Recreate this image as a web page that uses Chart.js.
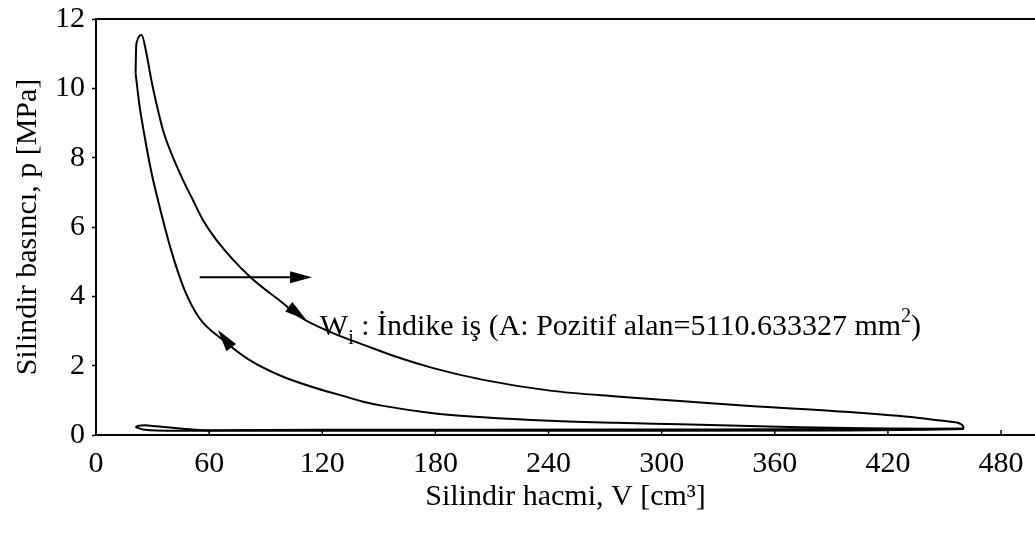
<!DOCTYPE html>
<html lang="tr">
  <head>
    <meta charset="UTF-8" />
    <script src="https://cdn.jsdelivr.net/npm/chart.js@4"></script>
    <title>p-V diyagramı</title>
    <style>
      html, body { margin: 0; padding: 0; background: #fff; overflow: hidden; }
      #grafik_pv { display: block; }
    </style>
  </head>
  <body>
    <canvas id="grafik_pv" width="1035" height="542"></canvas>
    <script>
      // eksenler
      var xTicks = [0, 60, 120, 180, 240, 300, 360, 420, 480];
      var yTicks = [0, 2, 4, 6, 8, 10, 12];

      // sıkıştırma (AÖN -> ÜÖN)
      var vSikistirma = [460.3, 417.8, 373.3, 346.8, 309.8, 276.2, 240.8, 205.4, 178.8, 152.3, 141.7, 134.6, 116.9, 99.2, 81.5, 67.3, 55.0, 47.0, 39.8, 33.2, 29.3, 25.8, 22.9, 21.0];
      var pSikistirma = [0.17, 0.19, 0.22, 0.26, 0.31, 0.35, 0.41, 0.51, 0.63, 0.84, 0.96, 1.07, 1.35, 1.68, 2.16, 2.74, 3.36, 4.18, 5.34, 6.70, 7.60, 8.61, 9.57, 10.44];

      // yanma + genişleme (ÜÖN -> AÖN)
      var vGenisleme = [21.0, 21.3, 21.7, 22.7, 24.2, 26.7, 29.3, 32.0, 35.5, 39.9, 46.1, 51.4, 56.7, 63.8, 81.5, 99.2, 108.0, 125.7, 143.5, 161.2, 178.8, 205.4, 240.8, 276.2, 309.8, 346.8, 399.9, 435.5, 453.1, 459.4, 460.3];
      var pGenisleme = [10.44, 11.2, 11.35, 11.49, 11.54, 11.02, 10.25, 9.57, 8.80, 8.13, 7.36, 6.78, 6.20, 5.63, 4.57, 3.80, 3.41, 2.94, 2.57, 2.22, 1.93, 1.59, 1.28, 1.11, 0.98, 0.84, 0.66, 0.50, 0.38, 0.29, 0.19];

      // egzoz (AÖN -> ÜÖN)
      var vEgzoz = [460.3, 400, 300, 200, 120, 57.6, 41.7, 32.0, 25.8, 22.5, 21.0];
      var pEgzoz = [0.19, 0.17, 0.16, 0.15, 0.15, 0.14, 0.20, 0.25, 0.28, 0.27, 0.23];

      // emme (ÜÖN -> AÖN)
      var vEmme = [21.0, 25.8, 41.7, 80, 200, 300, 400, 460.3];
      var pEmme = [0.23, 0.15, 0.12, 0.12, 0.12, 0.12, 0.13, 0.17];

      // oklar (veri birimlerinde): kuyruk ve uç
      var okKuyruk = [[55.0, 4.55], [101.7, 3.72], [72.3, 2.48]];
      var okUc = [[114.6, 4.55], [111.6, 3.32], [64.7, 3.03]];
      var okGovde = [true, false, false];

      // yazı konumu
      var yaziNokta = [118.7, 2.89];

      var yazi = "Times New Roman, 'Liberation Serif', serif";

      function noktalar(vs, ps) {
        var sonuc = [];
        for (var i = 0; i < vs.length; i++) {
          sonuc.push({ x: vs[i], y: ps[i] });
        }
        return sonuc;
      }

      function seri(vs, ps) {
        return {
          data: noktalar(vs, ps),
          showLine: true,
          borderColor: "#000",
          borderWidth: 2,
          pointRadius: 0,
          cubicInterpolationMode: "monotone",
          fill: false,
        };
      }

      // çerçeve, iç çentikler, oklar ve yazı
      var eklenti = {
        id: "ekler",
        afterDraw: function (chart) {
          var ctx = chart.ctx;
          var xs = chart.scales.x;
          var ys = chart.scales.y;
          var alan = chart.chartArea;
          ctx.save();
          ctx.strokeStyle = "#000";
          ctx.fillStyle = "#000";

          // üst çizgi
          ctx.lineWidth = 2;
          ctx.beginPath();
          ctx.moveTo(alan.left, alan.top);
          ctx.lineTo(alan.right, alan.top);
          ctx.stroke();

          // x çentikleri içe
          ctx.lineWidth = 1.5;
          xTicks.forEach(function (t) {
            if (t === 0) return;
            var px = xs.getPixelForValue(t);
            ctx.beginPath();
            ctx.moveTo(px, alan.bottom);
            ctx.lineTo(px, alan.bottom - 5);
            ctx.stroke();
          });

          // oklar
          for (var i = 0; i < okUc.length; i++) {
            var x0 = xs.getPixelForValue(okKuyruk[i][0]);
            var y0 = ys.getPixelForValue(okKuyruk[i][1]);
            var x1 = xs.getPixelForValue(okUc[i][0]);
            var y1 = ys.getPixelForValue(okUc[i][1]);
            var a = Math.atan2(y1 - y0, x1 - x0);
            if (okGovde[i]) {
              ctx.lineWidth = 2;
              ctx.beginPath();
              ctx.moveTo(x0, y0);
              ctx.lineTo(x1 - 10 * Math.cos(a), y1 - 10 * Math.sin(a));
              ctx.stroke();
            }
            var L = 22, W = 6;
            ctx.beginPath();
            ctx.moveTo(x1, y1);
            ctx.lineTo(x1 - L * Math.cos(a) + W * Math.sin(a), y1 - L * Math.sin(a) - W * Math.cos(a));
            ctx.lineTo(x1 - L * Math.cos(a) - W * Math.sin(a), y1 - L * Math.sin(a) + W * Math.cos(a));
            ctx.closePath();
            ctx.fill();
          }

          // W_i yazısı
          var tx = xs.getPixelForValue(yaziNokta[0]);
          var ty = ys.getPixelForValue(yaziNokta[1]);
          ctx.textBaseline = "alphabetic";
          ctx.textAlign = "left";
          var parcalar = [
            ["W", 30, 0],
            ["i", 20, 9],
            [" : İndike iş (A: Pozitif alan=5110.633327 mm", 30, 0],
            ["2", 20, -13],
            [")", 30, 0],
          ];
          parcalar.forEach(function (p) {
            ctx.font = p[1] + "px " + yazi;
            ctx.fillText(p[0], tx, ty + p[2]);
            tx += ctx.measureText(p[0]).width;
          });
          ctx.restore();
        },
      };

      new Chart(document.getElementById("grafik_pv"), {
        type: "scatter",
        data: {
          datasets: [
            seri(vSikistirma, pSikistirma),
            seri(vGenisleme, pGenisleme),
            seri(vEgzoz, pEgzoz),
            seri(vEmme, pEmme),
          ],
        },
        options: {
          responsive: false,
          animation: false,
          events: [],
          layout: { padding: { top: 19, right: 0, left: 0, bottom: 0 } },
          plugins: { legend: { display: false }, tooltip: { enabled: false } },
          scales: {
            x: {
              type: "linear",
              min: 0,
              max: 498,
              afterFit: function (s) {
                s.height = 107;
                s.paddingLeft = 0;
                s.paddingRight = 0;
              },
              afterBuildTicks: function (s) {
                s.ticks = xTicks.map(function (v) { return { value: v }; });
              },
              grid: { display: false },
              border: { display: true, color: "#000", width: 2 },
              ticks: {
                color: "#000",
                padding: 3,
                maxRotation: 0,
                autoSkip: false,
                font: { family: yazi, size: 30 },
              },
              title: {
                display: true,
                text: "Silindir hacmi, V [cm³]",
                color: "#000",
                padding: { top: 0, bottom: 27 },
                font: { family: yazi, size: 30 },
              },
            },
            y: {
              type: "linear",
              min: 0,
              max: 12,
              afterFit: function (s) {
                s.width = 96;
                s.paddingTop = 0;
                s.paddingBottom = 0;
              },
              afterBuildTicks: function (s) {
                s.ticks = yTicks.map(function (v) { return { value: v }; });
              },
              grid: {
                display: true,
                drawOnChartArea: false,
                drawTicks: true,
                tickLength: 4,
                tickColor: "#000",
                tickWidth: 1.5,
              },
              border: { display: true, color: "#000", width: 2 },
              ticks: {
                color: "#000",
                padding: 7,
                font: { family: yazi, size: 30 },
              },
              title: {
                display: true,
                text: "Silindir basıncı, p [MPa]",
                color: "#000",
                padding: { top: 10, bottom: 0 },
                font: { family: yazi, size: 30 },
              },
            },
          },
        },
        plugins: [eklenti],
      });
    </script>
  </body>
</html>
